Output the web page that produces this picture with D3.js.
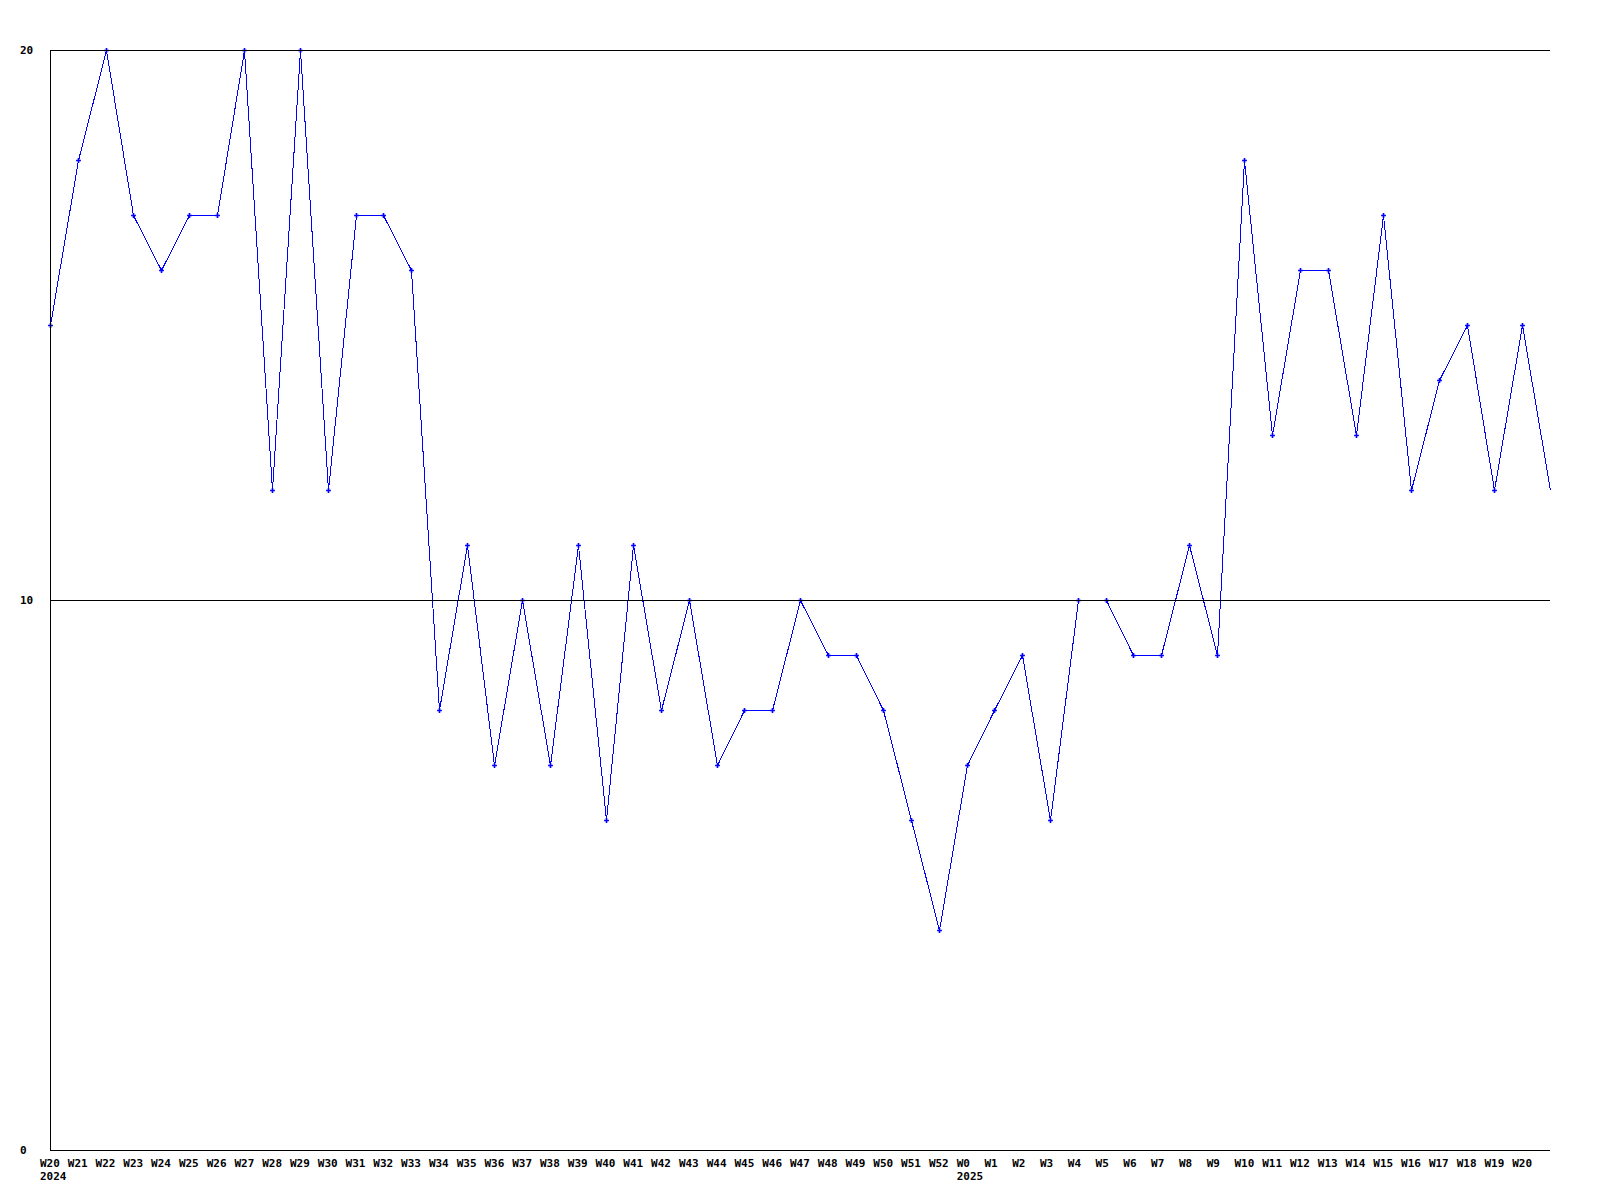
<!DOCTYPE html>
<html><head><meta charset="utf-8">
<script src="https://cdn.jsdelivr.net/npm/d3@7"></script>
<style>body{margin:0;background:#fff}svg{display:block}text{font-family:"DejaVu Sans Mono",monospace;font-weight:bold;font-size:11px}</style>
</head><body><svg id="c" width="1600" height="1200"></svg>
<script>
const weekLabels = ["W20","W21","W22","W23","W24","W25","W26","W27","W28","W29","W30","W31","W32","W33","W34","W35","W36","W37","W38","W39","W40","W41","W42","W43","W44","W45","W46","W47","W48","W49","W50","W51","W52","W0","W1","W2","W3","W4","W5","W6","W7","W8","W9","W10","W11","W12","W13","W14","W15","W16","W17","W18","W19","W20",""];
const yearLabels = {0:"2024",33:"2025"};
const values = [15,18,20,17,16,17,17,20,12,20,12,17,17,16,8,11,7,10,7,11,6,11,8,10,7,8,8,10,9,9,8,6,4,7,8,9,6,10,10,9,9,11,9,18,13,16,16,13,17,12,14,15,12,15,12];
const yTicks = [0,10,20];

const svg = d3.select("#c");
const L=50,R=1550,T=50,B=1150;
const x = d3.scaleLinear().domain([0, values.length-1]).range([L,R]);
const y = d3.scaleLinear().domain([0,20]).range([B,T]);
const px = v => Math.round(v)+0.5;

// data line
svg.append("path").datum(values)
  .attr("fill","none").attr("stroke","#0000ff").attr("stroke-width",1)
  .attr("shape-rendering","crispEdges")
  .attr("d", d3.line().x((d,i)=>px(x(i))).y(d=>px(y(d))));
// markers (labelled weeks only)
svg.append("g").selectAll("path").data(values.slice(0, weekLabels.filter(l=>l).length)).join("path")
  .attr("transform",(d,i)=>`translate(${px(x(i))},${px(y(d))})`)
  .attr("d", d3.symbol().type(d3.symbolCross).size(13))
  .attr("fill","#0000ff");

// gridlines
svg.append("g").selectAll("line").data(yTicks.filter(t=>t>0)).join("line")
  .attr("x1",L).attr("x2",R).attr("y1",d=>px(y(d))).attr("y2",d=>px(y(d)))
  .attr("stroke","#000").attr("stroke-width",1).attr("shape-rendering","crispEdges");
// axes
svg.append("line").attr("x1",L+0.5).attr("x2",L+0.5).attr("y1",T).attr("y2",B).attr("stroke","#000").attr("shape-rendering","crispEdges");
svg.append("line").attr("x1",L).attr("x2",R).attr("y1",B+0.5).attr("y2",B+0.5).attr("stroke","#000").attr("shape-rendering","crispEdges");

// y labels
svg.append("g").selectAll("text").data(yTicks).join("text")
  .attr("x",20).attr("y",d=>y(d)+4).text(d=>d);

// x labels (left-aligned a fixed offset before each point)
const xl = svg.append("g");
weekLabels.forEach((lab,i)=>{
  if(!lab) return;
  xl.append("text").attr("x",x(i)-10).attr("y",1167).text(lab);
  if(yearLabels[i]) xl.append("text").attr("x",x(i)-10).attr("y",1180).text(yearLabels[i]);
});
</script></body></html>
